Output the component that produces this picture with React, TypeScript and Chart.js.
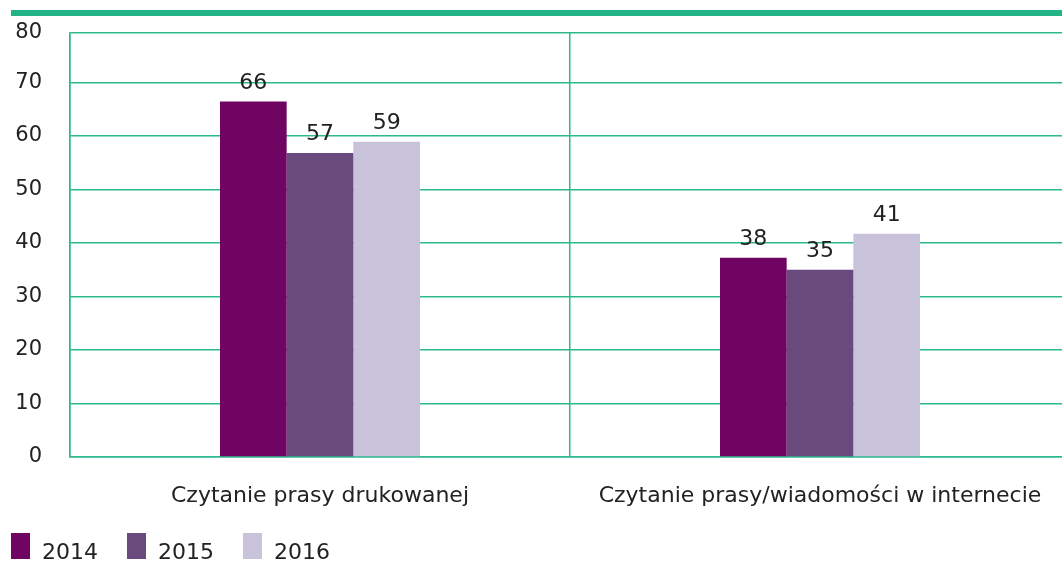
import React, { useEffect, useRef } from 'react';
import { Chart, registerables } from 'chart.js';

Chart.register(...registerables);

const categories = ['Czytanie prasy drukowanej', 'Czytanie prasy/wiadomości w internecie'];
const seriesNames = ['2014', '2015', '2016'];
const values2014 = [66.4, 37.2];
const values2015 = [56.8, 35.0];
const values2016 = [58.9, 41.7];
const labels2014 = ['66', '38'];
const labels2015 = ['57', '35'];
const labels2016 = ['59', '41'];
const seriesColors = ['#700463', '#6a4a7d', '#c8c3db'];
const yTickValues = [0, 10, 20, 30, 40, 50, 60, 70, 79.2];
const yTickLabels = ['0', '10', '20', '30', '40', '50', '60', '70', '80'];

const FONT = "'DejaVu Sans', sans-serif";
const GREEN = '#2db98f';
const TEXT = '#222222';

const valueLabels = [labels2014, labels2015, labels2016];

const topBarPlugin = {
  id: 'topBar',
  beforeDraw(chart: any) {
    const ctx = chart.ctx;
    ctx.save();
    ctx.fillStyle = '#22b487';
    ctx.fillRect(11, 10, chart.width, 6);
    ctx.restore();
  },
};

const dataLabelPlugin = {
  id: 'dataLabels',
  afterDatasetsDraw(chart: any) {
    const ctx = chart.ctx;
    ctx.save();
    ctx.font = `22px ${FONT}`;
    ctx.fillStyle = TEXT;
    ctx.textAlign = 'center';
    ctx.textBaseline = 'alphabetic';
    chart.data.datasets.forEach((ds: any, di: number) => {
      const meta = chart.getDatasetMeta(di);
      meta.data.forEach((bar: any, i: number) => {
        ctx.fillText(valueLabels[di][i], bar.x, bar.y - 13);
      });
    });
    ctx.restore();
  },
};

const legendPlugin = {
  id: 'customLegend',
  afterDraw(chart: any) {
    const ctx = chart.ctx;
    ctx.save();
    ctx.font = `22px ${FONT}`;
    ctx.textBaseline = 'alphabetic';
    ctx.textAlign = 'left';
    let x = 11;
    chart.data.datasets.forEach((ds: any) => {
      ctx.fillStyle = ds.backgroundColor;
      ctx.fillRect(x, 533, 19, 26);
      ctx.fillStyle = TEXT;
      ctx.fillText(ds.label, x + 31, 559);
      const w = ctx.measureText(ds.label).width;
      x += 31 + w + 29;
    });
    ctx.restore();
  },
};

export default function App() {
  const ref = useRef<HTMLCanvasElement>(null);
  useEffect(() => {
    document.body.style.margin = '0';
    const canvas = ref.current!;
    const chart = new Chart(canvas, {
      type: 'bar',
      data: {
        labels: categories,
        datasets: [
          { label: seriesNames[0], data: values2014, backgroundColor: seriesColors[0] },
          { label: seriesNames[1], data: values2015, backgroundColor: seriesColors[1] },
          { label: seriesNames[2], data: values2016, backgroundColor: seriesColors[2] },
        ],
      },
      options: {
        responsive: false,
        animation: false,
        devicePixelRatio: 1,
        layout: { padding: { top: 33, left: 0, right: 10, bottom: 50 } },
        datasets: { bar: { categoryPercentage: 0.4, barPercentage: 1.0, borderWidth: 0 } },
        plugins: {
          legend: { display: false },
          tooltip: { enabled: false },
        },
        scales: {
          x: {
            grid: { color: GREEN, lineWidth: 1.5, drawTicks: false, offset: true },
            border: { color: GREEN, width: 1.5 },
            ticks: { color: TEXT, font: { family: FONT, size: 22 }, padding: 26, maxRotation: 0 },
            afterFit(scale: any) {
              scale.height = 56;
              scale.paddingLeft = 0;
              scale.paddingRight = 0;
            },
          },
          y: {
            min: 0,
            max: 79.2,
            grid: { color: GREEN, lineWidth: 1.5, drawTicks: false },
            border: { color: GREEN, width: 1.5 },
            afterBuildTicks(scale: any) {
              scale.ticks = yTickValues.map((v) => ({ value: v }));
            },
            ticks: {
              color: TEXT,
              font: { family: FONT, size: 21 },
              padding: 28,
              callback: (_v: any, i: number) => yTickLabels[i],
            },
            afterFit(scale: any) {
              scale.width = 70;
              scale.paddingTop = 0;
              scale.paddingBottom = 0;
            },
          },
        },
      },
      plugins: [topBarPlugin, dataLabelPlugin, legendPlugin],
    });
    return () => chart.destroy();
  }, []);
  return (
    <div style={{ width: 1062, height: 563, overflow: 'hidden' }}>
      <canvas ref={ref} width={1080} height={563} style={{ display: 'block' }} />
    </div>
  );
}
